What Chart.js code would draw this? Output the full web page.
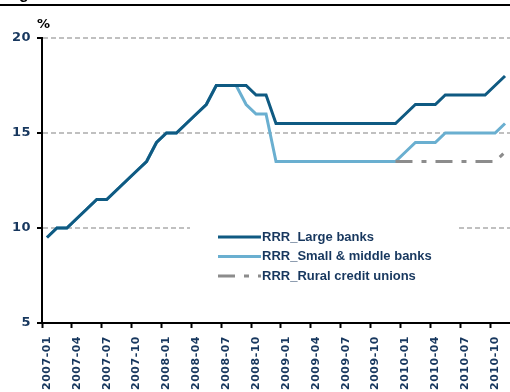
<!DOCTYPE html>
<html>
<head>
<meta charset="utf-8">
<script src="https://cdn.jsdelivr.net/npm/chart.js@4/dist/chart.umd.min.js"></script>
<style>
  body { margin: 0; background: #fff; }
  #box { width: 510px; height: 392px; }
</style>
</head>
<body>
<div id="box"><canvas id="rrr" width="510" height="392"></canvas></div>
<script>
let mois = [
    '2007-01','2007-02','2007-03','2007-04','2007-05','2007-06','2007-07','2007-08','2007-09','2007-10','2007-11','2007-12',
    '2008-01','2008-02','2008-03','2008-04','2008-05','2008-06','2008-07','2008-08','2008-09','2008-10','2008-11','2008-12',
    '2009-01','2009-02','2009-03','2009-04','2009-05','2009-06','2009-07','2009-08','2009-09','2009-10','2009-11','2009-12',
    '2010-01','2010-02','2010-03','2010-04','2010-05','2010-06','2010-07','2010-08','2010-09','2010-10','2010-11'
];

let largeBanks = [
    9.5, 10, 10, 10.5, 11, 11.5, 11.5, 12, 12.5, 13, 13.5, 14.5,
    15, 15, 15.5, 16, 16.5, 17.5, 17.5, 17.5, 17.5, 17, 17, 15.5,
    15.5, 15.5, 15.5, 15.5, 15.5, 15.5, 15.5, 15.5, 15.5, 15.5, 15.5, 15.5,
    16, 16.5, 16.5, 16.5, 17, 17, 17, 17, 17, 17.5, 18
];

let smallBanks = [
    9.5, 10, 10, 10.5, 11, 11.5, 11.5, 12, 12.5, 13, 13.5, 14.5,
    15, 15, 15.5, 16, 16.5, 17.5, 17.5, 17.5, 16.5, 16, 16, 13.5,
    13.5, 13.5, 13.5, 13.5, 13.5, 13.5, 13.5, 13.5, 13.5, 13.5, 13.5, 13.5,
    14, 14.5, 14.5, 14.5, 15, 15, 15, 15, 15, 15, 15.5
];

// pas de serie avant 2009-12
let ruralUnions = Array(35).fill(null).concat([
    13.5, 13.5, 13.5, 13.5, 13.5, 13.5, 13.5, 13.5, 13.5, 13.5, 13.5, 14
]);

let yTicks = [5, 10, 15, 20];

let navy = '#17375e';
let police = "'Liberation Sans', Arial, sans-serif";
let policeAxe = "'DejaVu Sans', sans-serif";

// legende dessinee a la main dans la zone du graphique
let legendePlugin = {
    id: 'legende',
    beforeDraw(chart) {
        chart.ctx.letterSpacing = '0.5px';
    },
    beforeDatasetsDraw(chart) {
        let c = chart.ctx;
        c.save();
        c.fillStyle = '#fff';
        c.fillRect(190, 220, 268, 68);
        c.restore();
    },
    afterDatasetsDraw(chart) {
        let c = chart.ctx;
        c.save();
        c.letterSpacing = '0px';
        chart.data.datasets.forEach((ds, i) => {
            let y = 237 + i * 19.5;
            c.beginPath();
            c.strokeStyle = ds.borderColor;
            c.lineWidth = ds.borderWidth;
            c.setLineDash(ds.borderDash || []);
            c.moveTo(218, y);
            c.lineTo(261, y);
            c.stroke();
            c.setLineDash([]);
            c.fillStyle = navy;
            c.font = 'bold 13px ' + police;
            c.textBaseline = 'middle';
            c.fillText(ds.label, 262, y);
        });
        c.restore();
    },
    afterDraw(chart) {
        let c = chart.ctx;
        c.save();
        c.letterSpacing = '0px';
        c.fillStyle = '#000';
        c.fillRect(0, 4, 510, 2);
        c.font = 'bold 16px ' + police;
        c.textBaseline = 'alphabetic';
        c.fillText('g', 19, -1);
        c.font = 'bold 13px ' + policeAxe;
        c.fillText('%', 37, 28);
        c.restore();
    }
};

let ctx = document.getElementById('rrr').getContext('2d');

let datas = {
    labels: mois,
    datasets: [{
        label: 'RRR_Large banks',
        data: largeBanks,
        borderColor: '#0f5a82',
        borderWidth: 3,
        pointRadius: 0,
        tension: 0
    },
    {
        label: 'RRR_Small & middle banks',
        data: smallBanks,
        borderColor: '#6aafd0',
        borderWidth: 3,
        pointRadius: 0,
        tension: 0
    },
    {
        label: 'RRR_Rural credit unions',
        data: ruralUnions,
        borderColor: '#8c8c8c',
        borderWidth: 3,
        borderDash: [17, 9, 5, 9],
        pointRadius: 0,
        tension: 0,
        order: -1
    }]
};

let rrrChart = new Chart(ctx, {
    type: 'line',
    data: datas,
    plugins: [legendePlugin],
    options: {
        responsive: false,
        animation: false,
        layout: { padding: { top: 38, left: 0, right: 0, bottom: 0 } },
        plugins: {
            legend: { display: false },
            tooltip: { enabled: false },
            title: { display: false }
        },
        scales: {
            x: {
                type: 'category',
                offset: true,
                afterFit(scale) {
                    scale.height = 69;
                    scale.paddingLeft = 0;
                    scale.paddingRight = 0;
                },
                grid: {
                    offset: true,
                    drawOnChartArea: false,
                    tickLength: 5,
                    tickWidth: 2,
                    tickColor: c => (c.index % 3 === 0 ? '#000' : 'rgba(0,0,0,0)')
                },
                border: { display: true, color: '#000', width: 2 },
                ticks: {
                    autoSkip: false,
                    minRotation: 90,
                    maxRotation: 90,
                    padding: 8,
                    color: navy,
                    font: { family: policeAxe, size: 11, weight: 'bold' },
                    callback: function (val, i) {
                        return i % 3 === 0 ? mois[i] : '';
                    }
                }
            },
            y: {
                min: yTicks[0],
                max: yTicks[yTicks.length - 1],
                afterFit(scale) {
                    scale.width = 42;
                },
                afterBuildTicks(scale) {
                    scale.ticks = yTicks.map(v => ({ value: v }));
                },
                grid: {
                    color: '#c0c0c0',
                    lineWidth: 2,
                    tickLength: 5,
                    tickWidth: 2,
                    tickColor: '#000'
                },
                border: { display: true, color: '#000', width: 2, dash: [5, 3] },
                ticks: {
                    padding: 6,
                    color: navy,
                    font: { family: policeAxe, size: 13, weight: 'bold' }
                }
            }
        }
    }
});
</script>
</body>
</html>
